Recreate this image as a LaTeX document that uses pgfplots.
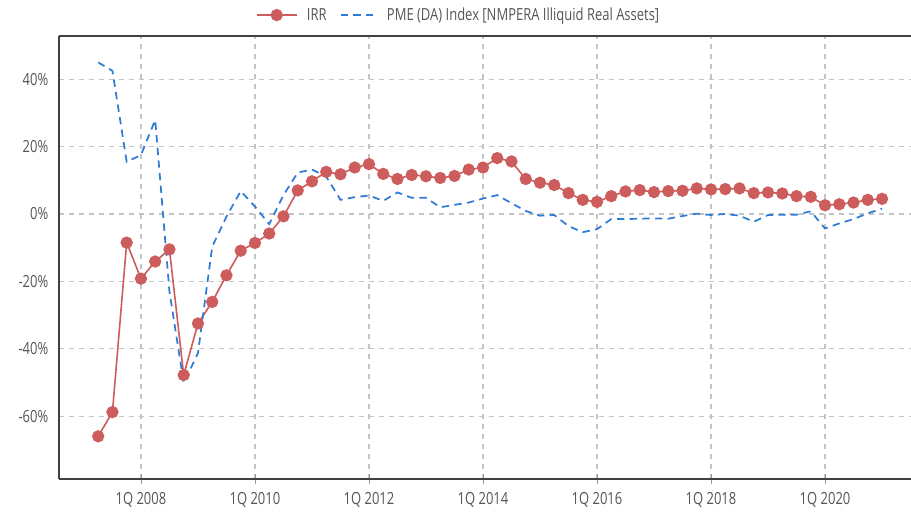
\documentclass[border=0pt]{standalone}
\usepackage{pgfplots}
\pgfplotsset{compat=1.18}
\usepackage{pgfplotstable}
\usepackage{fontspec}
\setmainfont{Open Sans}[FakeStretch=0.78]
\definecolor{irrred}{HTML}{CD5C5C}
\definecolor{pmeblue}{HTML}{2F7BD6}
\definecolor{gridgray}{HTML}{C4C4C4}
\definecolor{axisgray}{HTML}{404040}
\definecolor{txtgray}{HTML}{555555}

\pgfplotstableread{
t v
-3 -66.0
-2 -58.8
-1 -8.5
0 -19.2
1 -14.1
2 -10.5
3 -47.8
4 -32.5
5 -26.1
6 -18.2
7 -10.9
8 -8.6
9 -5.8
10 -0.7
11 7.0
12 9.7
13 12.5
14 11.8
15 13.8
16 14.8
17 11.9
18 10.4
19 11.6
20 11.2
21 10.7
22 11.3
23 13.2
24 13.8
25 16.6
26 15.6
27 10.4
28 9.3
29 8.6
30 6.2
31 4.2
32 3.6
33 5.3
34 6.7
35 7.1
36 6.5
37 6.8
38 6.9
39 7.6
40 7.3
41 7.4
42 7.6
43 6.2
44 6.4
45 6.1
46 5.3
47 5.1
48 2.6
49 2.9
50 3.4
51 4.2
52 4.5
}\irr

\pgfplotstableread{
t v
-3 45.0
-2 42.5
-1 15.5
0 17.5
1 27.9
2 -23.0
3 -50.2
4 -41.3
5 -9.7
6 -0.8
7 6.8
8 2.2
9 -3.0
10 5.6
11 12.3
12 13.2
13 11.1
14 4.2
15 5.0
16 5.5
17 3.9
18 6.4
19 4.8
20 4.8
21 2.0
22 2.7
23 3.4
24 4.6
25 5.6
26 3.2
27 0.9
28 -0.5
29 -0.3
30 -3.6
31 -5.4
32 -4.5
33 -1.5
34 -1.5
35 -1.4
36 -1.3
37 -1.4
38 -0.6
39 0.1
40 -0.3
41 0.0
42 -0.5
43 -2.3
44 -0.3
45 -0.2
46 -0.2
47 0.8
48 -4.3
49 -2.8
50 -1.5
51 0.2
52 1.6
}\pme

\begin{document}
\begin{tikzpicture}
\begin{axis}[
  name=ax,
  at={(0,0)}, anchor=south west,
  scale only axis,
  width=639.4pt, height=332.25pt,
  xmin=-5.75, xmax=54.07,
  ymin=-78.66, ymax=52.84,
  axis x line=box, axis y line=left,
  every outer y axis line/.append style={-},
  every outer x axis line/.append style={-},
  axis line style={draw=axisgray, line width=1.5pt},
  xtick={0,8,16,24,32,40,48},
  xticklabels={1Q 2008,1Q 2010,1Q 2012,1Q 2014,1Q 2016,1Q 2018,1Q 2020},
  ytick={-60,-40,-20,0,20,40},
  yticklabel={\pgfmathprintnumber{\tick}\%},
  /pgf/number format/assume math mode=true,
  xtick pos=bottom,
  xtick align=center,
  major tick length=7pt,
  xtick style={draw=gray!80, line width=0.6pt},
  ytick style={draw=none},
  tick label style={font=\fontsize{12.5}{14}\selectfont, text=txtgray},
  xticklabel style={yshift=-3pt},
  yticklabel style={xshift=-1pt},
  grid=major,
  major grid style={draw=gridgray, line width=0.9pt, dash pattern=on 4pt off 3.5pt},
  legend style={at={(0.473,1)}, anchor=south, yshift=6pt, draw=none, fill=none,
    font=\fontsize{12.5}{14}\selectfont, text=txtgray,
    nodes={inner xsep=7pt},
    /tikz/every even column/.append style={column sep=3pt}},
  legend columns=2,
  legend cell align=left,
  clip=false,
]
\addplot[color=irrred, line width=1.2pt, mark=*, mark size=4pt,
  mark options={fill=irrred, draw=irrred, solid},
  legend image code/.code={\draw[mark repeat=2,mark phase=2] plot coordinates {(0pt,0pt) (15pt,0pt) (30pt,0pt)};}]
  table[x=t, y=v] {\irr};
\addlegendentry{IRR}
\addplot[color=pmeblue, line width=1.3pt, dash pattern=on 5.5pt off 4pt,
  legend image code/.code={\draw (0pt,0pt) -- (27pt,0pt);}]
  table[x=t, y=v] {\pme};
\addlegendentry{PME (DA) Index [NMPERA Illiquid Real Assets]}
\end{axis}
\pgfresetboundingbox
\path[use as bounding box] (-44.25pt,-27.75pt) rectangle (639pt,359.25pt);
\end{tikzpicture}
\end{document}
